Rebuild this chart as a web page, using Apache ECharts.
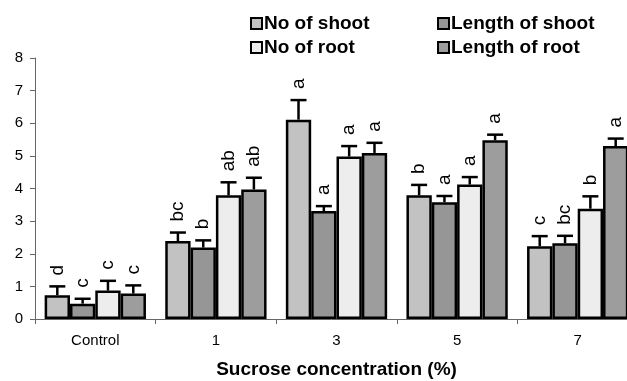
<!DOCTYPE html>
<html>
<head>
<meta charset="utf-8">
<script src="https://cdn.jsdelivr.net/npm/echarts@6/dist/echarts.min.js"></script>
<style>
  html, body { margin: 0; padding: 0; background: #fff; }
  #chart { width: 627px; height: 381px; }
</style>
</head>
<body>
<div id="chart"></div>
<script>
  var categories = ['Control', '1', '3', '5', '7'];
  var seriesNames = ['No of shoot', 'Length of shoot', 'No of root', 'Length of root'];
  var seriesColors = ['#c2c2c2', '#969696', '#ededed', '#9d9d9d'];

  var noShoot = [0.73, 2.39, 6.11, 3.79, 2.23];
  var lenShoot = [0.47, 2.19, 3.31, 3.58, 2.32];
  var noRoot = [0.87, 3.79, 4.98, 4.12, 3.38];
  var lenRoot = [0.78, 3.97, 5.09, 5.48, 5.30];

  var noShootErr = [0.27, 0.26, 0.60, 0.32, 0.31];
  var lenShootErr = [0.15, 0.22, 0.15, 0.19, 0.23];
  var noRootErr = [0.30, 0.40, 0.32, 0.23, 0.38];
  var lenRootErr = [0.25, 0.36, 0.31, 0.17, 0.23];

  var noShootLetters = ['d', 'bc', 'a', 'b', 'c'];
  var lenShootLetters = ['c', 'b', 'a', 'a', 'bc'];
  var noRootLetters = ['c', 'ab', 'a', 'a', 'b'];
  var lenRootLetters = ['c', 'ab', 'a', 'a', 'a'];

  var yTicks = [0, 1, 2, 3, 4, 5, 6, 7, 8];

  var values = [noShoot, lenShoot, noRoot, lenRoot];
  var errors = [noShootErr, lenShootErr, noRootErr, lenRootErr];
  var letters = [noShootLetters, lenShootLetters, noRootLetters, lenRootLetters];

  var BAR_FRAC = 0.21;
  var FONT = 'Liberation Sans, Arial, sans-serif';

  var chart = echarts.init(document.getElementById('chart'), null, { renderer: 'canvas' });

  var series = [];
  seriesNames.forEach(function (name, i) {
    series.push({
      name: name,
      type: 'bar',
      data: values[i],
      barWidth: (BAR_FRAC * 100) + '%',
      barGap: '0%',
      itemStyle: { color: seriesColors[i], borderColor: '#000', borderWidth: 2.5 },
      emphasis: { disabled: true },
      z: 2
    });
  });

  // error bars and significance letters, one custom series per bar series
  seriesNames.forEach(function (name, i) {
    var data = values[i].map(function (v, k) {
      return [k, v, errors[i][k], letters[i][k]];
    });
    series.push({
      type: 'custom',
      data: data,
      z: 3,
      silent: true,
      clip: false,
      encode: { x: 0, y: 1 },
      renderItem: function (params, api) {
        var cat = api.value(0);
        var val = api.value(1);
        var err = api.value(2);
        var band = api.size([1, 0])[0];
        var bw = band * BAR_FRAC;
        var base = api.coord([cat, val]);
        var x = base[0] + (i - 1.5) * bw;
        var top = api.coord([cat, val + err])[1];
        var cap = 8;
        return {
          type: 'group',
          children: [
            { type: 'line', shape: { x1: x, y1: base[1], x2: x, y2: top },
              style: { stroke: '#000', lineWidth: 2.5 } },
            { type: 'line', shape: { x1: x - cap, y1: top, x2: x + cap, y2: top },
              style: { stroke: '#000', lineWidth: 2.5 } },
            { type: 'text', x: x, y: top - 11, rotation: Math.PI / 2,
              style: { text: data[params.dataIndex][3], fill: '#000',
                font: '19px ' + FONT, align: 'left', verticalAlign: 'middle' } }
          ]
        };
      }
    });
  });

  var legendBase = {
    orient: 'vertical',
    top: 9,
    itemWidth: 11,
    itemHeight: 11,
    itemGap: 5,
    icon: 'rect',
    textStyle: { fontFamily: FONT, fontWeight: 'bold', fontSize: 19, color: '#000', padding: [0, 0, 0, -3] },
    selectedMode: false
  };

  chart.setOption({
    animation: false,
    backgroundColor: '#fff',
    textStyle: { fontFamily: FONT },
    legend: [
      Object.assign({}, legendBase, { left: 245, data: ['No of shoot', 'No of root'] }),
      Object.assign({}, legendBase, { left: 432, data: ['Length of shoot', 'Length of root'] })
    ],
    grid: { left: 35, width: 603, top: 58, bottom: 62, containLabel: false, outerBoundsMode: 'none' },
    xAxis: {
      type: 'category',
      data: categories,
      axisLine: { lineStyle: { color: '#666', width: 1 } },
      axisTick: { show: true, length: 5, lineStyle: { color: '#666' } },
      axisLabel: { color: '#000', fontSize: 15, margin: 14, fontFamily: FONT },
      name: 'Sucrose concentration (%)',
      nameLocation: 'middle',
      nameGap: 41,
      nameTextStyle: { color: '#000', fontSize: 19, fontWeight: 'bold', fontFamily: FONT }
    },
    yAxis: {
      type: 'value',
      min: yTicks[0],
      max: yTicks[yTicks.length - 1],
      interval: 1,
      splitLine: { show: false },
      axisLine: { show: true, lineStyle: { color: '#666', width: 1 } },
      axisTick: { show: true, length: 5, lineStyle: { color: '#666' } },
      axisLabel: { color: '#000', fontSize: 15, margin: 12, fontFamily: FONT }
    },
    series: series
  });
</script>
</body>
</html>
